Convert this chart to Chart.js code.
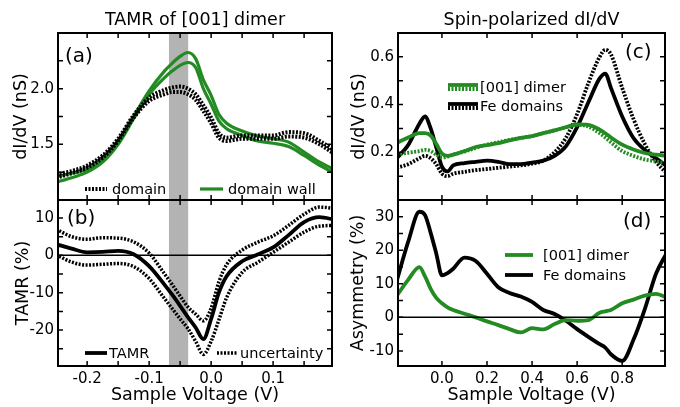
<!DOCTYPE html>
<html>
<head>
<meta charset="utf-8">
<script src="https://cdn.jsdelivr.net/npm/chart.js@4.4.0/dist/chart.umd.min.js"></script>
<style>
  body { margin: 0; background: #fff; }
  #wrap { position: relative; width: 680px; height: 407px; }
  #wrap canvas { position: absolute; left: 0; top: 0; }
</style>
</head>
<body>
<div id="wrap">
  <canvas id="pa" width="680" height="407"></canvas>
  <canvas id="pb" width="680" height="407"></canvas>
  <canvas id="pc" width="680" height="407"></canvas>
  <canvas id="pd" width="680" height="407"></canvas>
</div>
<script>
// ---- left column: TAMR of [001] dimer ----
const vLeft = [-0.25, -0.225, -0.2, -0.175, -0.15, -0.125, -0.1, -0.075, -0.0625, -0.05, -0.0375, -0.025, -0.0125,
  0, 0.0125, 0.025, 0.05, 0.075, 0.1, 0.125, 0.15, 0.175, 0.2];
const domainHi = [1.23, 1.26, 1.31, 1.40, 1.55, 1.76, 1.92, 1.99, 2.01, 2.02, 2.0, 1.95, 1.85,
  1.74, 1.60, 1.56, 1.58, 1.58, 1.58, 1.61, 1.60, 1.53, 1.44];
const domainLo = [1.20, 1.24, 1.29, 1.38, 1.53, 1.74, 1.89, 1.95, 1.97, 1.97, 1.95, 1.90, 1.80,
  1.69, 1.56, 1.53, 1.55, 1.55, 1.55, 1.57, 1.56, 1.50, 1.41];
const wallHi = [1.21, 1.24, 1.275, 1.36, 1.52, 1.75, 1.98, 2.16, 2.23, 2.29, 2.325, 2.27, 2.08,
  1.94, 1.77, 1.69, 1.62, 1.575, 1.55, 1.52, 1.43, 1.34, 1.27];
const wallLo = [1.16, 1.20, 1.25, 1.34, 1.50, 1.73, 1.95, 2.10, 2.16, 2.21, 2.235, 2.19, 2.00,
  1.86, 1.71, 1.64, 1.58, 1.53, 1.51, 1.48, 1.40, 1.31, 1.24];
const tamr = [3.0, 1.8, 0.8, 0.9, 1.2, 0.3, -2.9, -7.9, -10.6, -13.5, -16.5, -19.3, -22.4,
  -17, -10, -5.6, -1.6, 0.2, 2.1, 5.4, 8.9, 10.2, 9.5];
const uncHi = [7.0, 5.0, 4.3, 4.7, 4.6, 3.6, 0.6, -5.0, -7.9, -10.9, -13.8, -15.7, -17.5,
  -14.2, -7.1, -2.5, 1.4, 3.5, 5.2, 8.0, 11.0, 12.9, 12.5];
const uncLo = [0.2, -1.8, -2.6, -2.4, -2.2, -3.0, -6.2, -11.6, -14.3, -17, -19.6, -23, -26.5,
  -23, -17.3, -11.3, -4.6, -1.9, 0.8, 3.5, 6.2, 7.8, 8.0];
const band = [-0.068, -0.037];

// ---- right column: spin-polarized dI/dV ----
const vRight = [-0.2, -0.15, -0.1, -0.075, -0.05, -0.025, 0, 0.025, 0.05, 0.1, 0.15, 0.2, 0.25, 0.3,
  0.35, 0.4, 0.45, 0.5, 0.55, 0.6, 0.65, 0.7, 0.725, 0.75, 0.8, 0.85, 0.9, 0.95, 1.0];
const dimerSolid = [0.24, 0.262, 0.28, 0.28, 0.27, 0.235, 0.195, 0.185, 0.19, 0.205, 0.222, 0.23, 0.238, 0.25,
  0.26, 0.268, 0.28, 0.292, 0.305, 0.317, 0.315, 0.295, 0.28, 0.262, 0.232, 0.212, 0.197, 0.19, 0.185];
const dimerDot = [0.19, 0.198, 0.205, 0.21, 0.205, 0.19, 0.178, 0.182, 0.19, 0.203, 0.218, 0.232, 0.242, 0.252,
  0.26, 0.268, 0.28, 0.292, 0.305, 0.315, 0.308, 0.28, 0.262, 0.242, 0.205, 0.185, 0.17, 0.162, 0.155];
const feSolid = [0.175, 0.23, 0.32, 0.35, 0.30, 0.22, 0.14, 0.12, 0.145, 0.155, 0.16, 0.165, 0.16, 0.15,
  0.15, 0.157, 0.165, 0.185, 0.225, 0.305, 0.41, 0.51, 0.53, 0.47, 0.35, 0.26, 0.21, 0.175, 0.14];
const feDot = [0.135, 0.15, 0.175, 0.185, 0.175, 0.15, 0.11, 0.10, 0.11, 0.118, 0.125, 0.13, 0.135, 0.14,
  0.145, 0.152, 0.165, 0.2, 0.26, 0.36, 0.49, 0.60, 0.63, 0.61, 0.47, 0.34, 0.235, 0.16, 0.11];
const asymDimer = [6.5, 11.2, 15, 12.2, 8.5, 5.8, 4.2, 3.0, 2.2, 1.1, 0, -1.2, -2.3, -3.5,
  -4.5, -3.2, -3.6, -2.0, -0.8, -1.0, -0.8, 1.4, 1.8, 2.2, 4.2, 5.3, 6.5, 7.0, 5.8];
const asymFe = [11, 22.5, 31.5, 30.5, 25.2, 19, 12.5, 13.2, 14.5, 17.8, 16.8, 13, 9, 7.3,
  6.2, 4.6, 2.2, 1.0, -1.0, -3.5, -5.8, -8, -9, -11, -13, -6.7, 2.4, 13, 19.5];

// ---- ticks ----
const xTicksLeft = [-0.2, -0.15, -0.1, -0.05, 0, 0.05, 0.1, 0.15];
const xLabelsLeft = [-0.2, -0.1, 0, 0.1];
const xTicksRight = [0, 0.2, 0.4, 0.6, 0.8];
const xLabelsRight = [0, 0.2, 0.4, 0.6, 0.8];
const yTicksA = [1.25, 1.5, 1.75, 2, 2.25];
const yLabelsA = [1.5, 2];
const yTicksB = [10, 5, 0, -5, -10, -15, -20, -25];
const yLabelsB = [10, 0, -10, -20];
const yTicksC = [0.1, 0.2, 0.3, 0.4, 0.5, 0.6];
const yLabelsC = [0.2, 0.4, 0.6];
const yTicksD = [30, 25, 20, 15, 10, 5, 0, -5, -10];
const yLabelsD = [30, 20, 10, 0, -10];

const FONT = 'DejaVu Sans';
const GREEN = '#228b22';

function pts(xs, ys) { return xs.map((x, i) => ({ x: x, y: ys[i] })); }

function series(xs, ys, color, dotted, width) {
  return {
    data: pts(xs, ys),
    borderColor: color,
    borderWidth: width,
    borderDash: dotted ? [2, 1.5] : [],
    borderCapStyle: 'butt',
    pointRadius: 0,
    cubicInterpolationMode: 'monotone',
    fill: false
  };
}

function near(list, v) { return list.some(l => Math.abs(l - v) < 1e-9); }

function axis(min, max, ticks, labels, digits) {
  return {
    type: 'linear', min: min, max: max,
    afterBuildTicks: s => { s.ticks = ticks.map(v => ({ value: v })); },
    ticks: {
      autoSkip: false, maxRotation: 0, minRotation: 0, padding: 4, color: '#000',
      font: { family: FONT, size: 15 },
      callback: v => near(labels, v) ? v.toFixed(digits) : ''
    },
    grid: { display: false, drawTicks: false },
    border: { display: false }
  };
}

function ytitle(text, off) {
  return { display: true, text: text, color: '#000', font: { family: FONT, size: 17.5 }, padding: { top: off, bottom: 0 } };
}

// frame, inward ticks, band, zero line, titles and legends
function decor(cfg) {
  return {
    id: 'decor',
    beforeDatasetsDraw(chart) {
      if (!cfg.band) return;
      const a = chart.chartArea, sx = chart.scales.x, ctx = chart.ctx;
      const x0 = sx.getPixelForValue(cfg.band[0]), x1 = sx.getPixelForValue(cfg.band[1]);
      ctx.save();
      ctx.fillStyle = '#b3b3b3';
      ctx.fillRect(x0, a.top, x1 - x0, a.bottom - a.top);
      ctx.restore();
    },
    afterDatasetsDraw(chart) {
      const a = chart.chartArea, ctx = chart.ctx, sx = chart.scales.x, sy = chart.scales.y;
      ctx.save();
      ctx.strokeStyle = '#000';
      ctx.fillStyle = '#000';
      if (cfg.zero) {
        const y0 = sy.getPixelForValue(0);
        ctx.lineWidth = 1.5;
        ctx.beginPath(); ctx.moveTo(a.left, y0); ctx.lineTo(a.right, y0); ctx.stroke();
      }
      ctx.lineWidth = 1.5;
      ctx.beginPath();
      sx.ticks.forEach(t => {
        const p = sx.getPixelForValue(t.value);
        if (p <= a.left + 1 || p >= a.right - 1) return;
        ctx.moveTo(p, a.bottom); ctx.lineTo(p, a.bottom - 5);
        ctx.moveTo(p, a.top); ctx.lineTo(p, a.top + 5);
      });
      sy.ticks.forEach(t => {
        const p = sy.getPixelForValue(t.value);
        if (p <= a.top + 1 || p >= a.bottom - 1) return;
        ctx.moveTo(a.left, p); ctx.lineTo(a.left + 5, p);
        ctx.moveTo(a.right, p); ctx.lineTo(a.right - 5, p);
      });
      ctx.stroke();
      ctx.lineWidth = 2;
      ctx.strokeRect(a.left, a.top, a.right - a.left, a.bottom - a.top);

      ctx.textBaseline = 'middle';
      if (cfg.title) {
        ctx.font = '17.5px "' + FONT + '"';
        ctx.textAlign = 'center';
        ctx.fillText(cfg.title, (a.left + a.right) / 2, 20);
      }
      ctx.font = '20px "' + FONT + '"';
      ctx.textAlign = 'left';
      ctx.fillText(cfg.tag[0], cfg.tag[1], cfg.tag[2]);

      ctx.font = '14.5px "' + FONT + '"';
      cfg.legend.forEach(e => {
        e.sets.forEach((i, k) => {
          const ds = chart.data.datasets[i];
          const y = e.y + (k - (e.sets.length - 1) / 2) * (e.gap || 0);
          ctx.save();
          ctx.strokeStyle = ds.borderColor;
          ctx.lineWidth = ds.borderWidth;
          ctx.setLineDash(ds.borderDash);
          ctx.beginPath(); ctx.moveTo(e.x, y); ctx.lineTo(e.x + e.len, y); ctx.stroke();
          ctx.restore();
        });
        ctx.fillText(e.text, e.x + e.len + e.pad, e.y + 1);
      });
      ctx.restore();
    }
  };
}

function makeChart(id, datasets, pad, xAxis, yAxis, xHeight, cfg) {
  xAxis.afterFit = s => { s.height = xHeight; };
  yAxis.afterFit = s => { s.width = 58; };
  return new Chart(document.getElementById(id), {
    type: 'line',
    data: { datasets: datasets },
    options: {
      responsive: false, animation: false, events: [],
      layout: { padding: pad },
      plugins: { legend: { display: false }, tooltip: { enabled: false } },
      scales: { x: xAxis, y: yAxis }
    },
    plugins: [decor(cfg)]
  });
}

const xTitle = { display: true, text: 'Sample Voltage (V)', color: '#000', font: { family: FONT, size: 17.5 }, padding: { top: 0, bottom: 1 } };

// (a)
const xa = axis(-0.247, 0.195, xTicksLeft, xLabelsLeft, 1);
xa.ticks.display = false;
const ya = axis(1.0, 2.5, yTicksA, yLabelsA, 1);
ya.title = ytitle('dI/dV (nS)', 10.5);
makeChart('pa', [
  series(vLeft, domainHi, '#000', true, 4),
  series(vLeft, domainLo, '#000', true, 4),
  series(vLeft, wallHi, GREEN, false, 3.2),
  series(vLeft, wallLo, GREEN, false, 3.2)
], { left: 0, right: 348, top: 33, bottom: 207 }, xa, ya, 0, {
  band: band, title: 'TAMR of [001] dimer', tag: ['(a)', 65, 57],
  legend: [
    { sets: [0], x: 85, y: 189, len: 22, pad: 5, text: 'domain' },
    { sets: [2], x: 200, y: 189, len: 23, pad: 5, text: 'domain wall' }
  ]
});

// (b)
const xb = axis(-0.247, 0.195, xTicksLeft, xLabelsLeft, 1);
xb.title = xTitle;
const yb = axis(-29.6, 14.8, yTicksB, yLabelsB, 0);
yb.title = ytitle('TAMR (%)', 13);
makeChart('pb', [
  series(vLeft, tamr, '#000', false, 3.8),
  series(vLeft, uncHi, '#000', true, 3.5),
  series(vLeft, uncLo, '#000', true, 3.5)
], { left: 0, right: 348, top: 200, bottom: 0 }, xb, yb, 41, {
  band: band, zero: true, tag: ['(b)', 67, 219],
  legend: [
    { sets: [0], x: 85, y: 353, len: 22, pad: 2, text: 'TAMR' },
    { sets: [1], x: 217, y: 353, len: 21, pad: 2, text: 'uncertainty' }
  ]
});

// (c)
const xc = axis(-0.195, 0.99, xTicksRight, xLabelsRight, 1);
xc.ticks.display = false;
const yc = axis(0, 0.7, yTicksC, yLabelsC, 1);
yc.title = ytitle('dI/dV (nS)', 8.5);
makeChart('pc', [
  series(vRight, dimerSolid, GREEN, false, 3.8),
  series(vRight, dimerDot, GREEN, true, 3.8),
  series(vRight, feSolid, '#000', false, 3.8),
  series(vRight, feDot, '#000', true, 3.8)
], { left: 340, right: 15, top: 33, bottom: 207 }, xc, yc, 0, {
  title: 'Spin-polarized dI/dV', tag: ['(c)', 625, 53],
  legend: [
    { sets: [0, 1], gap: 4, x: 448, y: 87, len: 30, pad: 2, text: '[001] dimer' },
    { sets: [2, 3], gap: 4, x: 448, y: 106, len: 30, pad: 2, text: 'Fe domains' }
  ]
});

// (d)
const xd = axis(-0.195, 0.99, xTicksRight, xLabelsRight, 1);
xd.title = xTitle;
const yd = axis(-14.5, 35, yTicksD, yLabelsD, 0);
yd.title = ytitle('Asymmetry (%)', 7.5);
makeChart('pd', [
  series(vRight, asymDimer, GREEN, false, 3.8),
  series(vRight, asymFe, '#000', false, 3.8)
], { left: 340, right: 15, top: 200, bottom: 0 }, xd, yd, 41, {
  zero: true, tag: ['(d)', 623, 222],
  legend: [
    { sets: [0], x: 505, y: 255, len: 28, pad: 10, text: '[001] dimer' },
    { sets: [1], x: 505, y: 275, len: 28, pad: 10, text: 'Fe domains' }
  ]
});
</script>
</body>
</html>
